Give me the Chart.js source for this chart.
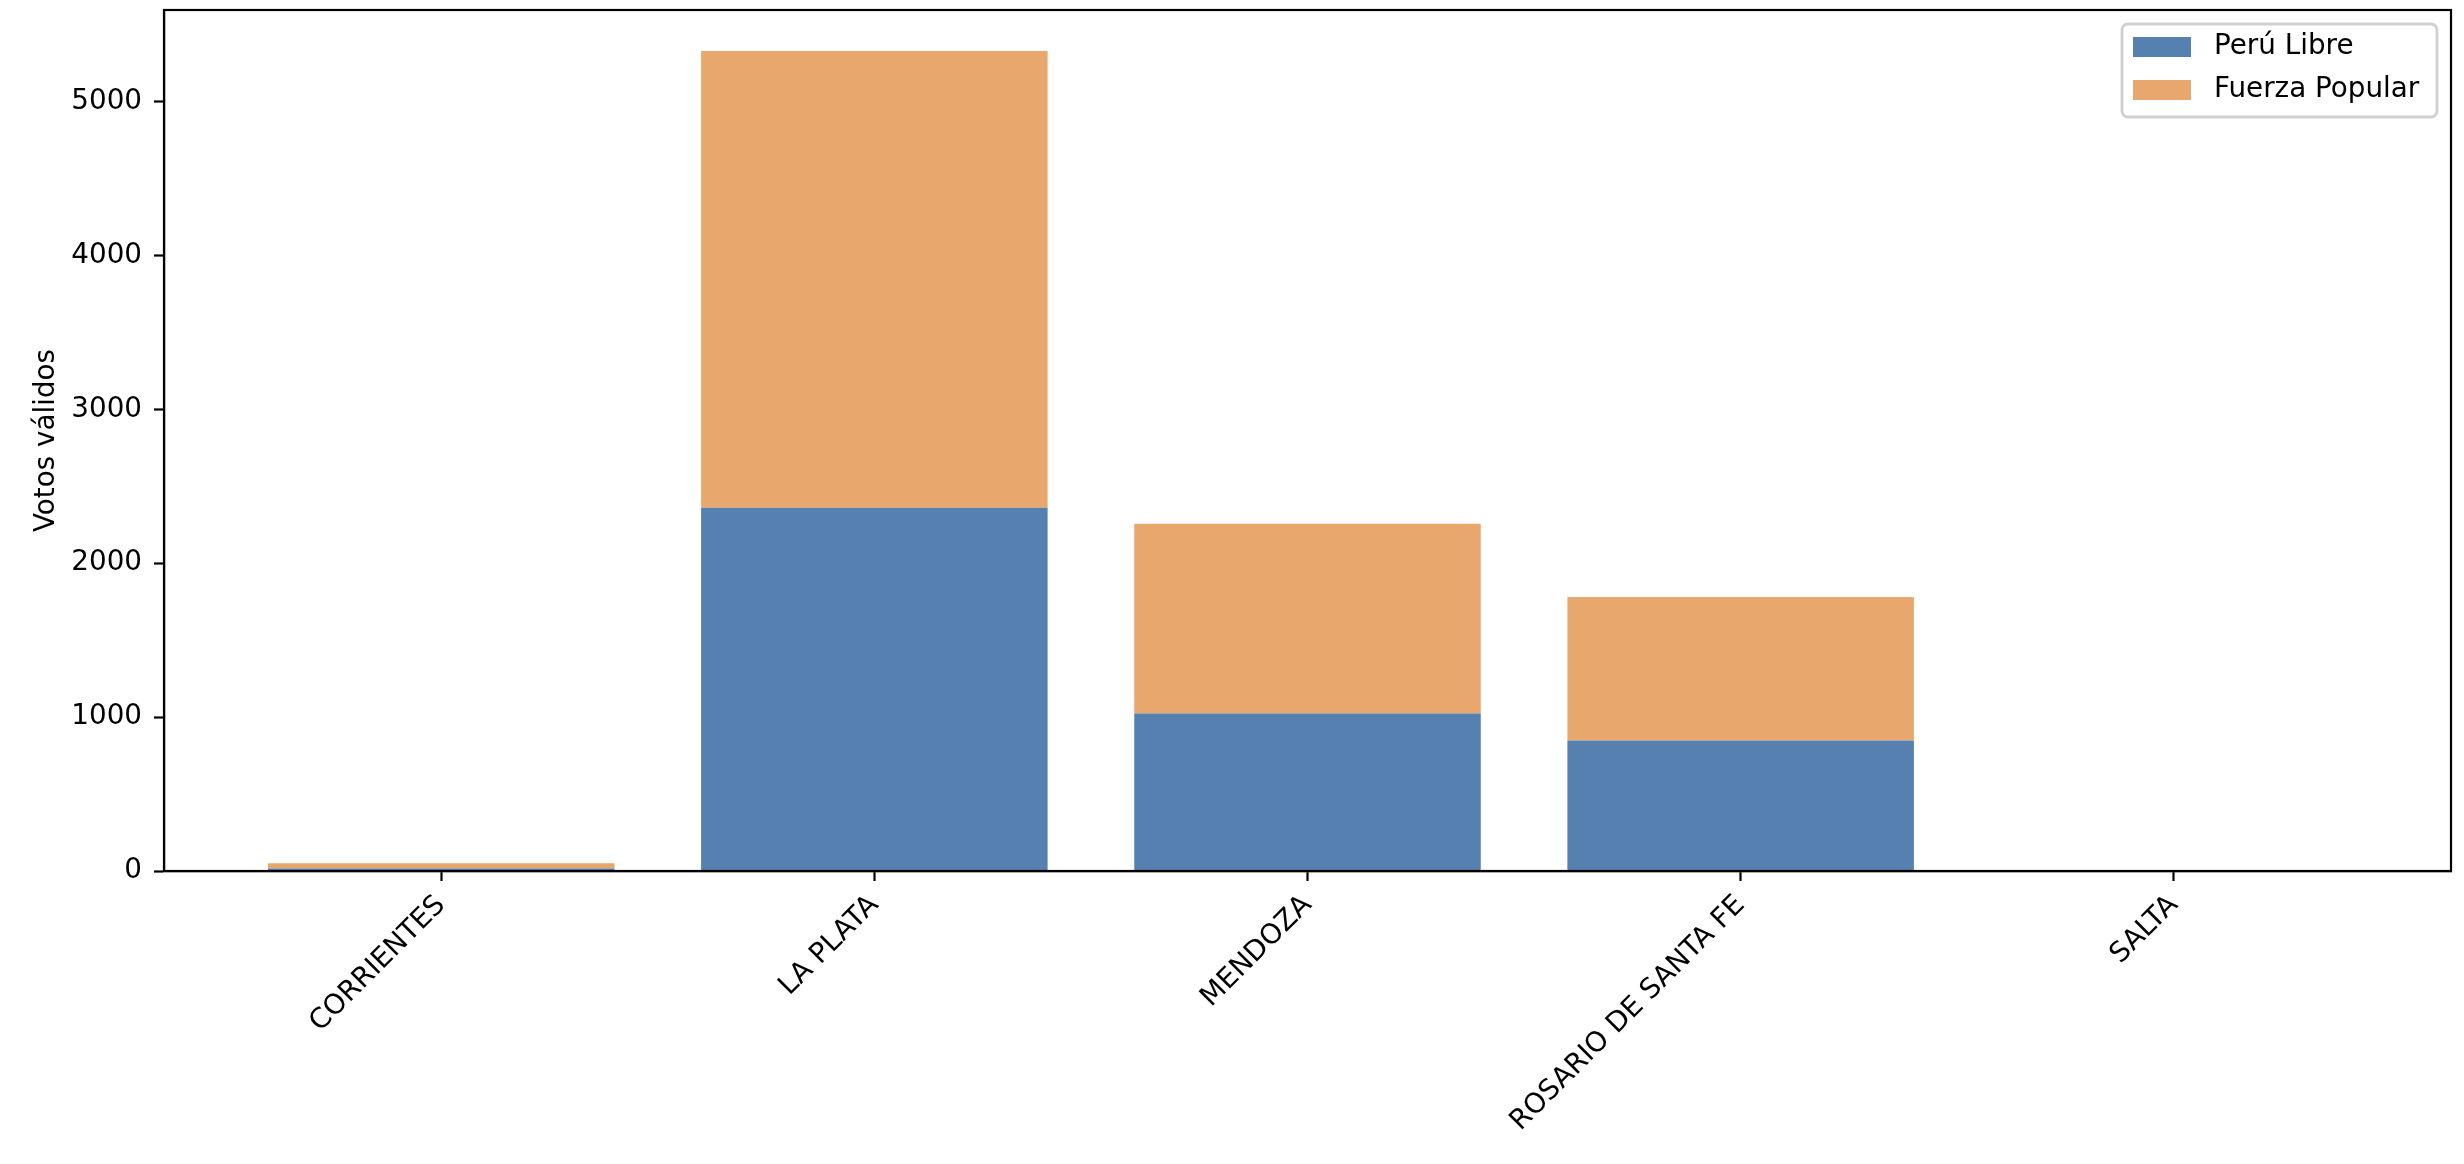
<!DOCTYPE html>
<html>
<head>
<meta charset="utf-8">
<script src="https://cdn.jsdelivr.net/npm/chart.js@4.4.1/dist/chart.umd.min.js"></script>
<style>
  html, body { margin: 0; padding: 0; background: #fff; }
  #wrap { width: 2464px; height: 1164px; }
</style>
</head>
<body>
<div id="wrap"><canvas id="chart" width="2464" height="1164"></canvas></div>
<script>
// --- DATA ---
const categories = ['CORRIENTES', 'LA PLATA', 'MENDOZA', 'ROSARIO DE SANTA FE', 'SALTA'];
const peruLibre = [17, 2361, 1023, 848, 0];
const fuerzaPopular = [33, 2968, 1234, 933, 0];
const yTicks = [0, 1000, 2000, 3000, 4000, 5000];
const yMax = 5595;
const xMin = -0.64;
const xMax = 4.64;

const FONT = "'DejaVu Sans', sans-serif";
const FS = 27.8;
const blue = 'rgb(85,128,176)';
const orange = 'rgb(232,167,109)';

// white background + full box frame like matplotlib
const framePlugin = {
  id: 'frame',
  beforeDraw(chart) {
    const c = chart.ctx;
    c.save();
    c.fillStyle = '#fff';
    c.fillRect(0, 0, chart.width, chart.height);
    c.restore();
  },
  afterDraw(chart) {
    const { left, top, right, bottom } = chart.chartArea;
    const c = chart.ctx;
    c.save();
    c.strokeStyle = '#000';
    c.lineWidth = 2.2;
    c.strokeRect(left, top, right - left, bottom - top);

    // legend box, top right inside the axes
    const sets = chart.data.datasets;
    const boxW = 315, boxH = 93;
    const bx = right - 14 - boxW, by = top + 14;
    c.beginPath();
    c.roundRect(bx, by, boxW, boxH, 6);
    c.fillStyle = 'rgba(255,255,255,0.8)';
    c.fill();
    c.strokeStyle = '#d0d0d0';
    c.lineWidth = 2.8;
    c.stroke();
    c.font = FS + 'px ' + FONT;
    c.textBaseline = 'middle';
    c.textAlign = 'left';
    sets.forEach((ds, i) => {
      const cy = by + 23 + i * 43;
      c.fillStyle = ds.backgroundColor;
      c.fillRect(bx + 11, cy - 10, 58, 20);
      c.fillStyle = '#000';
      c.fillText(ds.label, bx + 92, cy);
    });
    c.restore();
  }
};

new Chart(document.getElementById('chart'), {
  type: 'bar',
  data: {
    datasets: [
      {
        label: 'Perú Libre',
        data: peruLibre.map((v, i) => ({ x: i, y: v })),
        backgroundColor: blue,
        borderWidth: 0,
      },
      {
        label: 'Fuerza Popular',
        data: fuerzaPopular.map((v, i) => ({ x: i, y: v })),
        backgroundColor: orange,
        borderWidth: 0,
      },
    ],
  },
  options: {
    responsive: false,
    devicePixelRatio: 1,
    animation: false,
    categoryPercentage: 1,
    barPercentage: 0.8,
    layout: { padding: { top: 10, right: 13, left: 0, bottom: 0 } },
    plugins: {
      legend: { display: false },
      tooltip: { enabled: false },
    },
    scales: {
      x: {
        type: 'linear',
        stacked: true,
        offset: false,
        min: xMin,
        max: xMax,
        afterBuildTicks: (scale) => { scale.ticks = categories.map((_, i) => ({ value: i })); },
        afterFit: (scale) => { scale.height = 293; scale.paddingLeft = 0; scale.paddingRight = 0; },
        grid: { offset: false, drawOnChartArea: false, drawTicks: true, tickLength: 10, tickColor: '#000', tickWidth: 2.2 },
        border: { display: true, color: '#000', width: 2.2 },
        ticks: {
          autoSkip: false,
          minRotation: 45,
          maxRotation: 45,
          padding: 8,
          color: '#000',
          font: { family: FONT, size: FS },
          callback: (v) => categories[v],
        },
      },
      y: {
        stacked: true,
        min: 0,
        max: yMax,
        afterBuildTicks: (scale) => { scale.ticks = yTicks.map((v) => ({ value: v })); },
        afterFit: (scale) => { scale.width = 164; scale.paddingTop = 0; scale.paddingBottom = 0; },
        grid: { drawOnChartArea: false, drawTicks: true, tickLength: 10, tickColor: '#000', tickWidth: 2.2 },
        border: { display: true, color: '#000', width: 2.2 },
        ticks: {
          padding: 12,
          color: '#000',
          font: { family: FONT, size: FS },
          callback: (v) => String(v),
        },
        title: {
          display: true,
          text: 'Votos válidos',
          color: '#000',
          font: { family: FONT, size: FS },
          padding: { top: 30, bottom: 0 },
        },
      },
    },
  },
  plugins: [framePlugin],
});
</script>
</body>
</html>
